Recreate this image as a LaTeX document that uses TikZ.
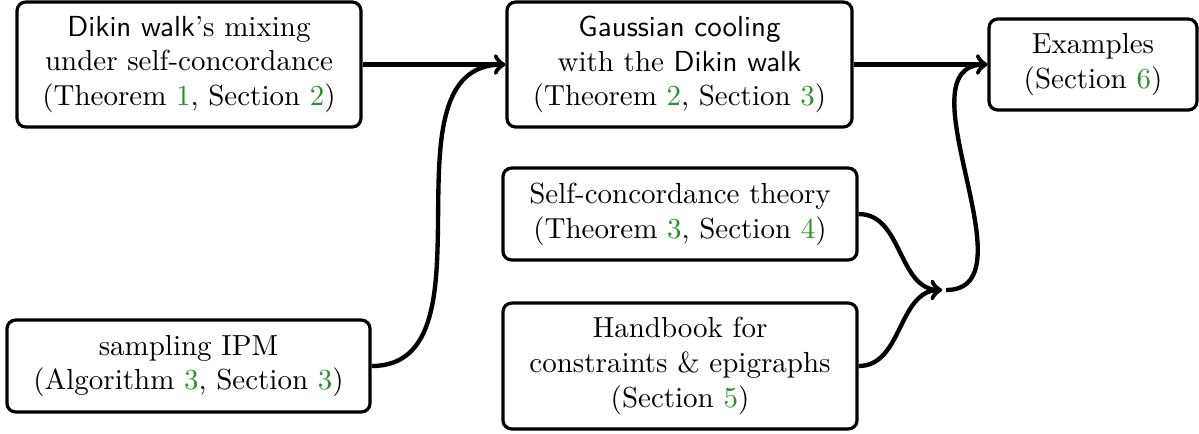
\documentclass[tikz,border=0pt]{standalone}
\definecolor{refgreen}{RGB}{40,145,40}
\newcommand{\gn}[1]{\textcolor{refgreen}{#1}}
\begin{document}
\begin{tikzpicture}[x=0.34483pt,y=-0.34483pt,
  box/.style={draw, line width=1.1pt, rounded corners=3pt, align=center, inner sep=0pt},
  conn/.style={line width=1.5pt, ->}]
\useasboundingbox (0,0) rectangle (1199,433);
\node[box, minimum width=118.6pt, minimum height=43.1pt] (dikin) at (189,64.5)
  {\textsf{Dikin walk}'s mixing\\under self-concordance\\(Theorem \gn{1}, Section \gn{2})};
\node[box, minimum width=119pt, minimum height=43.1pt] (gauss) at (679.5,64.5)
  {\textsf{Gaussian cooling}\\with the \textsf{Dikin walk}\\(Theorem \gn{2}, Section \gn{3})};
\node[box, minimum width=71.7pt, minimum height=31.4pt] (ex) at (1093,64.5)
  {Examples\\(Section \gn{6})};
\node[box, minimum width=122.1pt, minimum height=31.7pt] (sc) at (680,214)
  {Self-concordance theory\\(Theorem \gn{3}, Section \gn{4})};
\node[box, minimum width=122.1pt, minimum height=43.4pt] (hb) at (680,366)
  {Handbook for\\constraints \& epigraphs\\(Section \gn{5})};
\node[box, minimum width=125.2pt, minimum height=31.7pt] (ipm) at (188.5,366)
  {sampling IPM\\(Algorithm \gn{3}, Section \gn{3})};
\coordinate (j) at (942,290);
\coordinate (j2) at (946,290);
\draw[conn] (dikin.east) -- (gauss.west);
\draw[conn] (ipm.east) to[out=0,in=180] (gauss.west);
\draw[conn] (gauss.east) -- (ex.west);
\draw[conn] (sc.east) to[out=0,in=180] (j);
\draw[conn] (hb.east) to[out=0,in=180] (j);
\draw[conn] (j2) to[out=0,in=180] (ex.west);
\end{tikzpicture}
\end{document}
